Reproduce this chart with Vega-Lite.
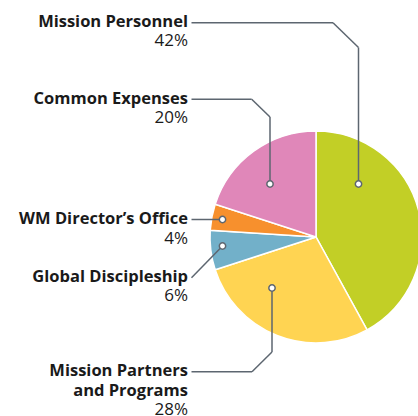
{
  "$schema": "https://vega.github.io/schema/vega-lite/v6.json",
  "width": 418,
  "height": 416,
  "autosize": {"type": "none"},
  "padding": 0,
  "background": "white",
  "config": {"view": {"stroke": null}, "axis": {"disable": true}, "text": {"font": "Open Sans", "lineBreak": "\n"}},
  "data": {"values": [
    {"cat": "Mission Personnel", "name": "Mission Personnel", "share": 0.42, "idx": 1},
    {"cat": "Mission Partners and Programs", "name": "Mission Partners\nand Programs", "share": 0.28, "idx": 2},
    {"cat": "Global Discipleship", "name": "Global Discipleship", "share": 0.06, "idx": 3},
    {"cat": "WM Director’s Office", "name": "WM Director’s Office", "share": 0.04, "idx": 4},
    {"cat": "Common Expenses", "name": "Common Expenses", "share": 0.20, "idx": 5}
  ]},
  "layer": [
    {
      "mark": {"type": "arc", "outerRadius": 106, "stroke": "white", "strokeWidth": 1.5},
      "encoding": {
        "x": {"datum": 316, "type": "quantitative", "scale": {"domain": [0, 418], "nice": false, "zero": false}},
        "y": {"datum": 237, "type": "quantitative", "scale": {"domain": [0, 416], "nice": false, "zero": false, "reverse": true}},
        "theta": {"field": "share", "type": "quantitative", "stack": true},
        "order": {"field": "idx", "type": "quantitative"},
        "color": {"field": "cat", "type": "nominal", "legend": null,
          "scale": {"domain": ["Mission Personnel", "Mission Partners and Programs", "Global Discipleship", "WM Director’s Office", "Common Expenses"],
                    "range": ["#c2cf26", "#ffd452", "#72b0c9", "#f7902d", "#e087b9"]}}
      }
    },
    {"transform": [{"filter": {"field": "cat", "equal": "Mission Personnel"}}], "mark": {"type": "rule", "color": "#5d6670", "strokeWidth": 1.5},
     "encoding": {"x": {"datum": 191.5, "type": "quantitative"}, "x2": {"datum": 333}, "y": {"datum": 22.7, "type": "quantitative"}, "y2": {"datum": 22.7}}},
    {"transform": [{"filter": {"field": "cat", "equal": "Mission Personnel"}}], "mark": {"type": "rule", "color": "#5d6670", "strokeWidth": 1.5},
     "encoding": {"x": {"datum": 333, "type": "quantitative"}, "x2": {"datum": 358.5}, "y": {"datum": 22.7, "type": "quantitative"}, "y2": {"datum": 47.5}}},
    {"transform": [{"filter": {"field": "cat", "equal": "Mission Personnel"}}], "mark": {"type": "rule", "color": "#5d6670", "strokeWidth": 1.5},
     "encoding": {"x": {"datum": 358.5, "type": "quantitative"}, "x2": {"datum": 358.5}, "y": {"datum": 47.5, "type": "quantitative"}, "y2": {"datum": 184}}},
    {"transform": [{"filter": {"field": "cat", "equal": "Common Expenses"}}], "mark": {"type": "rule", "color": "#5d6670", "strokeWidth": 1.5},
     "encoding": {"x": {"datum": 191.5, "type": "quantitative"}, "x2": {"datum": 251.7}, "y": {"datum": 99.3, "type": "quantitative"}, "y2": {"datum": 99.3}}},
    {"transform": [{"filter": {"field": "cat", "equal": "Common Expenses"}}], "mark": {"type": "rule", "color": "#5d6670", "strokeWidth": 1.5},
     "encoding": {"x": {"datum": 251.7, "type": "quantitative"}, "x2": {"datum": 270}, "y": {"datum": 99.3, "type": "quantitative"}, "y2": {"datum": 117}}},
    {"transform": [{"filter": {"field": "cat", "equal": "Common Expenses"}}], "mark": {"type": "rule", "color": "#5d6670", "strokeWidth": 1.5},
     "encoding": {"x": {"datum": 270, "type": "quantitative"}, "x2": {"datum": 270}, "y": {"datum": 117, "type": "quantitative"}, "y2": {"datum": 184}}},
    {"transform": [{"filter": {"field": "cat", "equal": "WM Director’s Office"}}], "mark": {"type": "rule", "color": "#5d6670", "strokeWidth": 1.5},
     "encoding": {"x": {"datum": 191.5, "type": "quantitative"}, "x2": {"datum": 222.5}, "y": {"datum": 219.5, "type": "quantitative"}, "y2": {"datum": 219.5}}},
    {"transform": [{"filter": {"field": "cat", "equal": "Global Discipleship"}}], "mark": {"type": "rule", "color": "#5d6670", "strokeWidth": 1.5},
     "encoding": {"x": {"datum": 191.5, "type": "quantitative"}, "x2": {"datum": 222.5}, "y": {"datum": 277.7, "type": "quantitative"}, "y2": {"datum": 246}}},
    {"transform": [{"filter": {"field": "cat", "equal": "Mission Partners and Programs"}}], "mark": {"type": "rule", "color": "#5d6670", "strokeWidth": 1.5},
     "encoding": {"x": {"datum": 191.5, "type": "quantitative"}, "x2": {"datum": 252}, "y": {"datum": 371.7, "type": "quantitative"}, "y2": {"datum": 371.7}}},
    {"transform": [{"filter": {"field": "cat", "equal": "Mission Partners and Programs"}}], "mark": {"type": "rule", "color": "#5d6670", "strokeWidth": 1.5},
     "encoding": {"x": {"datum": 252, "type": "quantitative"}, "x2": {"datum": 272}, "y": {"datum": 371.7, "type": "quantitative"}, "y2": {"datum": 352}}},
    {"transform": [{"filter": {"field": "cat", "equal": "Mission Partners and Programs"}}], "mark": {"type": "rule", "color": "#5d6670", "strokeWidth": 1.5},
     "encoding": {"x": {"datum": 272, "type": "quantitative"}, "x2": {"datum": 272}, "y": {"datum": 352, "type": "quantitative"}, "y2": {"datum": 288}}},
    {"transform": [{"filter": {"field": "cat", "equal": "Mission Personnel"}}], "mark": {"type": "point", "shape": "circle", "filled": true, "fill": "white", "stroke": "#5d6670", "strokeWidth": 1.5, "size": 40, "opacity": 1},
     "encoding": {"x": {"datum": 358.5, "type": "quantitative"}, "y": {"datum": 184, "type": "quantitative"}}},
    {"transform": [{"filter": {"field": "cat", "equal": "Common Expenses"}}], "mark": {"type": "point", "shape": "circle", "filled": true, "fill": "white", "stroke": "#5d6670", "strokeWidth": 1.5, "size": 40, "opacity": 1},
     "encoding": {"x": {"datum": 270, "type": "quantitative"}, "y": {"datum": 184, "type": "quantitative"}}},
    {"transform": [{"filter": {"field": "cat", "equal": "WM Director’s Office"}}], "mark": {"type": "point", "shape": "circle", "filled": true, "fill": "white", "stroke": "#5d6670", "strokeWidth": 1.5, "size": 40, "opacity": 1},
     "encoding": {"x": {"datum": 222.5, "type": "quantitative"}, "y": {"datum": 219.5, "type": "quantitative"}}},
    {"transform": [{"filter": {"field": "cat", "equal": "Global Discipleship"}}], "mark": {"type": "point", "shape": "circle", "filled": true, "fill": "white", "stroke": "#5d6670", "strokeWidth": 1.5, "size": 40, "opacity": 1},
     "encoding": {"x": {"datum": 222.5, "type": "quantitative"}, "y": {"datum": 246, "type": "quantitative"}}},
    {"transform": [{"filter": {"field": "cat", "equal": "Mission Partners and Programs"}}], "mark": {"type": "point", "shape": "circle", "filled": true, "fill": "white", "stroke": "#5d6670", "strokeWidth": 1.5, "size": 40, "opacity": 1},
     "encoding": {"x": {"datum": 272, "type": "quantitative"}, "y": {"datum": 288, "type": "quantitative"}}},
    {"transform": [{"filter": {"field": "cat", "equal": "Mission Personnel"}}], "mark": {"type": "text", "align": "right", "baseline": "alphabetic", "fontSize": 16.5, "fontWeight": "bold", "color": "#1a1a1a", "lineHeight": 20},
     "encoding": {"x": {"datum": 188, "type": "quantitative"}, "y": {"datum": 27.3, "type": "quantitative"}, "text": {"field": "name"}}},
    {"transform": [{"filter": {"field": "cat", "equal": "Mission Personnel"}}], "mark": {"type": "text", "align": "right", "baseline": "alphabetic", "fontSize": 17, "color": "#1a1a1a"},
     "encoding": {"x": {"datum": 188, "type": "quantitative"}, "y": {"datum": 46.3, "type": "quantitative"}, "text": {"field": "share", "type": "quantitative", "format": ".0%"}}},
    {"transform": [{"filter": {"field": "cat", "equal": "Common Expenses"}}], "mark": {"type": "text", "align": "right", "baseline": "alphabetic", "fontSize": 16.5, "fontWeight": "bold", "color": "#1a1a1a", "lineHeight": 20},
     "encoding": {"x": {"datum": 188, "type": "quantitative"}, "y": {"datum": 104, "type": "quantitative"}, "text": {"field": "name"}}},
    {"transform": [{"filter": {"field": "cat", "equal": "Common Expenses"}}], "mark": {"type": "text", "align": "right", "baseline": "alphabetic", "fontSize": 17, "color": "#1a1a1a"},
     "encoding": {"x": {"datum": 188, "type": "quantitative"}, "y": {"datum": 123, "type": "quantitative"}, "text": {"field": "share", "type": "quantitative", "format": ".0%"}}},
    {"transform": [{"filter": {"field": "cat", "equal": "WM Director’s Office"}}], "mark": {"type": "text", "align": "right", "baseline": "alphabetic", "fontSize": 16.5, "fontWeight": "bold", "color": "#1a1a1a", "lineHeight": 20},
     "encoding": {"x": {"datum": 188, "type": "quantitative"}, "y": {"datum": 224.4, "type": "quantitative"}, "text": {"field": "name"}}},
    {"transform": [{"filter": {"field": "cat", "equal": "WM Director’s Office"}}], "mark": {"type": "text", "align": "right", "baseline": "alphabetic", "fontSize": 17, "color": "#1a1a1a"},
     "encoding": {"x": {"datum": 188, "type": "quantitative"}, "y": {"datum": 243.6, "type": "quantitative"}, "text": {"field": "share", "type": "quantitative", "format": ".0%"}}},
    {"transform": [{"filter": {"field": "cat", "equal": "Global Discipleship"}}], "mark": {"type": "text", "align": "right", "baseline": "alphabetic", "fontSize": 16.5, "fontWeight": "bold", "color": "#1a1a1a", "lineHeight": 20},
     "encoding": {"x": {"datum": 188, "type": "quantitative"}, "y": {"datum": 282.3, "type": "quantitative"}, "text": {"field": "name"}}},
    {"transform": [{"filter": {"field": "cat", "equal": "Global Discipleship"}}], "mark": {"type": "text", "align": "right", "baseline": "alphabetic", "fontSize": 17, "color": "#1a1a1a"},
     "encoding": {"x": {"datum": 188, "type": "quantitative"}, "y": {"datum": 301.3, "type": "quantitative"}, "text": {"field": "share", "type": "quantitative", "format": ".0%"}}},
    {"transform": [{"filter": {"field": "cat", "equal": "Mission Partners and Programs"}}], "mark": {"type": "text", "align": "right", "baseline": "alphabetic", "fontSize": 16.5, "fontWeight": "bold", "color": "#1a1a1a", "lineHeight": 20},
     "encoding": {"x": {"datum": 188, "type": "quantitative"}, "y": {"datum": 376.3, "type": "quantitative"}, "text": {"field": "name"}}},
    {"transform": [{"filter": {"field": "cat", "equal": "Mission Partners and Programs"}}], "mark": {"type": "text", "align": "right", "baseline": "alphabetic", "fontSize": 17, "color": "#1a1a1a"},
     "encoding": {"x": {"datum": 188, "type": "quantitative"}, "y": {"datum": 414.5, "type": "quantitative"}, "text": {"field": "share", "type": "quantitative", "format": ".0%"}}}
  ]
}
